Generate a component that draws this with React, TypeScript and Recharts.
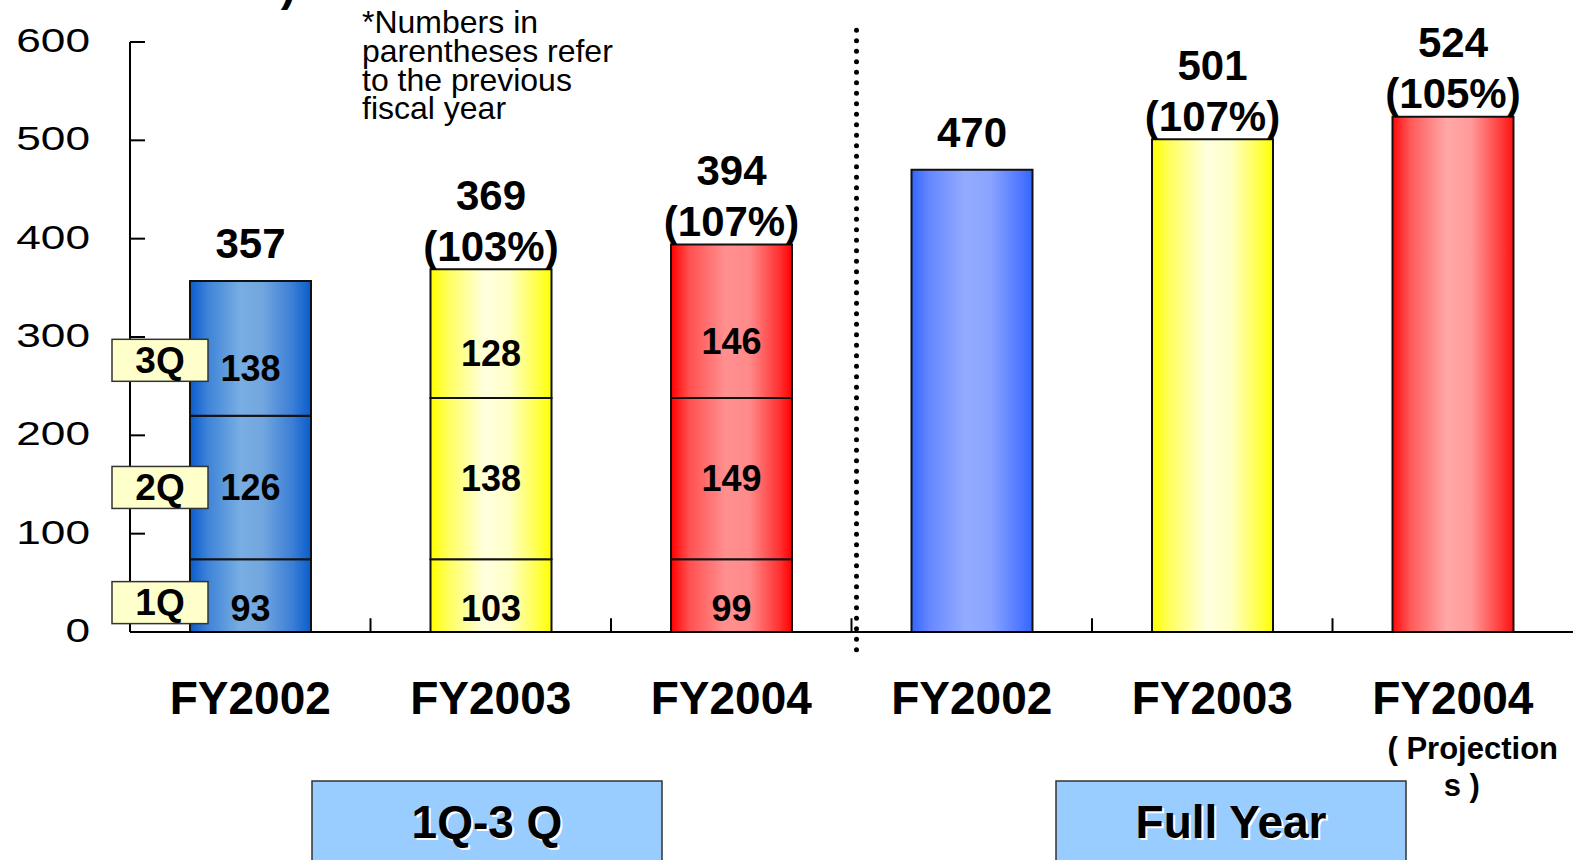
import React from "react";
import { BarChart, Bar, XAxis, YAxis, Cell, LabelList, ReferenceLine } from "recharts";

const categories = ["FY2002", "FY2003", "FY2004", "FY2002", "FY2003", "FY2004"];
// segment heights as they are drawn in the source chart
const q1 = [74, 74, 74, null, null, null];
const q2 = [146, 164, 164, null, null, null];
const q3 = [137, 131, 156, null, null, null];
// numbers printed inside the segments
const q1Labels = [93, 103, 99];
const q2Labels = [126, 138, 149];
const q3Labels = [138, 128, 146];
const fullYear = [null, null, null, 470, 501, 524];
const totals = [357, 369, 394, 470, 501, 524];
const growth = [null, "(103%)", "(107%)", null, "(107%)", "(105%)"];
const tickNotes: (string[] | null)[] = [null, null, null, null, null, ["( Projection", "s )"]];
const yTicks = [0, 100, 200, 300, 400, 500, 600];
const quarterFills = ["url(#blueQ)", "url(#yellowQ)", "url(#redQ)"];
const fullFills = ["", "", "", "url(#blueF)", "url(#yellowF)", "url(#redF)"];

const rows = categories.map((c, i) => ({
  cat: c + "_" + i,
  q1: q1[i],
  q2: q2[i],
  q3: q3[i],
  full: fullYear[i],
}));

const FONT = '"Liberation Sans", Arial, sans-serif';

function YTick(props: any) {
  const { x, y, payload } = props;
  return (
    <g transform={`translate(${x},${y - 2})`}>
      <text textAnchor="end" dominantBaseline="central" transform="scale(1.3,1)" fontSize={34} fontFamily={FONT} fill="#000">
        {payload.value}
      </text>
    </g>
  );
}

function XTick(props: any) {
  const { x, y, index } = props;
  const notes = tickNotes[index];
  return (
    <g>
      <text x={x} y={y + 82} textAnchor="middle" fontSize={46} fontWeight="bold" fontFamily={FONT} fill="#000">
        {categories[index]}
      </text>
      {notes && (
        <>
          <text x={x + 20} y={y + 127} textAnchor="middle" fontSize={31} fontWeight="bold" fontFamily={FONT} fill="#000">{notes[0]}</text>
          <text x={x + 9} y={y + 164} textAnchor="middle" fontSize={31} fontWeight="bold" fontFamily={FONT} fill="#000">{notes[1]}</text>
        </>
      )}
    </g>
  );
}

const segLabel = (labels: number[], dy: number, qName: string, boxDy: number) => (props: any) => {
  const { x, y, width, height, index } = props;
  const v = labels[index];
  if (v == null || !height) return null;
  const cy = y + height / 2 + dy;
  return (
    <g>
      {index === 0 && (
        <g>
          <rect x={x - 78} y={cy + boxDy - 21} width={96} height={42} fill="#ffffcc" stroke="#333" strokeWidth={1.5} />
          <text x={x - 30} y={cy + boxDy} textAnchor="middle" dominantBaseline="central" fontSize={37} fontWeight="bold" fontFamily={FONT} fill="#000">
            {qName}
          </text>
        </g>
      )}
      <text x={x + width / 2} y={cy} textAnchor="middle" dominantBaseline="central" fontSize={36} fontWeight="bold" fontFamily={FONT} fill="#000">
        {v}
      </text>
    </g>
  );
};

const totalLabel = (series: (number | null)[]) => (props: any) => {
  const { x, y, width, index, value } = props;
  const raw = Array.isArray(value) ? value[1] - value[0] : value;
  let i = series.indexOf(raw);
  if (i < 0) i = index;
  if (i == null || series[i] == null) return null;
  const g = growth[i];
  const cx = x + width / 2;
  const pctY = y - 23;
  const numY = g ? pctY - 51 : y - 37;
  return (
    <g>
      <text x={cx} y={numY} textAnchor="middle" dominantBaseline="central" fontSize={42} fontWeight="bold" fontFamily={FONT} fill="#000">
        {totals[i]}
      </text>
      {g && (
        <text x={cx} y={pctY} textAnchor="middle" dominantBaseline="central" fontSize={42} fontWeight="bold" fontFamily={FONT} fill="#000">
          {g}
        </text>
      )}
    </g>
  );
};

function grad(id: string, stops: [number, string][]) {
  return (
    <linearGradient id={id} x1="0" y1="0" x2="1" y2="0">
      {stops.map(([o, c], i) => (
        <stop key={i} offset={o} stopColor={c} />
      ))}
    </linearGradient>
  );
}

function GroupBox({ x, label }: { x: number; label: string }) {
  return (
    <g>
      <rect x={x} y={781} width={350} height={100} fill="#99ccff" stroke="#333" strokeWidth={1.5} />
      <text x={x + 177} y={840} textAnchor="middle" fontSize={46} fontWeight="bold" fontFamily={FONT} fill="#fff">{label}</text>
      <text x={x + 175} y={838} textAnchor="middle" fontSize={46} fontWeight="bold" fontFamily={FONT} fill="#000">{label}</text>
    </g>
  );
}

// dotted divider sits a few px right of the group boundary
const Divider = (p: any) => (
  <line x1={p.x1 + 5} y1={p.y1} x2={p.x2 + 5} y2={p.y2} stroke="#000" strokeWidth={5} strokeDasharray="0 10.5" strokeLinecap="round" />
);

export default function App() {
  return (
    <div style={{ position: "absolute", left: 0, top: 0, width: 1573, height: 860, background: "#fff", overflow: "hidden" }}>
      <BarChart width={1573} height={860} data={rows} margin={{ top: 42, right: 0, bottom: 158, left: 0 }} barSize={121}>
        <defs>
          {grad("blueQ", [[0, "#0a5ccc"], [0.15, "#3f84d8"], [0.42, "#78aee2"], [0.6, "#72a6de"], [0.85, "#3a7ed6"], [1, "#0a5ccc"]])}
          {grad("yellowQ", [[0, "#ffff00"], [0.15, "#ffff60"], [0.45, "#ffffe0"], [0.65, "#ffffc8"], [0.9, "#ffff40"], [1, "#ffff00"]])}
          {grad("redQ", [[0, "#ff0000"], [0.15, "#ff5050"], [0.45, "#ff9090"], [0.65, "#ff8a8a"], [0.9, "#ff3030"], [1, "#ff0000"]])}
          {grad("blueF", [[0, "#3366ff"], [0.15, "#6688ff"], [0.45, "#94acff"], [0.65, "#8aa4ff"], [0.9, "#5078ff"], [1, "#3366ff"]])}
          {grad("yellowF", [[0, "#ffff00"], [0.15, "#ffff60"], [0.45, "#ffffe0"], [0.65, "#ffffc8"], [0.9, "#ffff40"], [1, "#ffff00"]])}
          {grad("redF", [[0, "#ff0a0a"], [0.15, "#ff5a5a"], [0.45, "#ffa8a8"], [0.65, "#ff9a9a"], [0.9, "#ff3a3a"], [1, "#ff1010"]])}
        </defs>
        <XAxis dataKey="cat" type="category" height={70} tickLine={false} tickSize={0} tickMargin={0}
          axisLine={{ stroke: "#000", strokeWidth: 2 }} tick={<XTick />} interval={0} />
        <YAxis domain={[0, 600]} ticks={yTicks} width={130} tickSize={-15} tickMargin={55}
          axisLine={{ stroke: "#000", strokeWidth: 2 }} tickLine={{ stroke: "#000", strokeWidth: 2 }} tick={<YTick />} interval={0} />
        {rows.slice(1).map((r) => (
          <ReferenceLine key={r.cat} position="start" segment={[{ x: r.cat, y: 0 }, { x: r.cat, y: 14 }]} stroke="#000" strokeWidth={2} />
        ))}
        <ReferenceLine position="start" ifOverflow="visible" segment={[{ x: rows[3].cat, y: 612 }, { x: rows[3].cat, y: -20.5 }]}
          shape={Divider} />
        <Bar dataKey="q1" stackId="a" stroke="#111" strokeWidth={2} isAnimationActive={false}>
          {rows.map((r, i) => <Cell key={i} fill={quarterFills[i] || "none"} />)}
          <LabelList dataKey="q1" content={segLabel(q1Labels, 13, "1Q", -6)} />
        </Bar>
        <Bar dataKey="q2" stackId="a" stroke="#111" strokeWidth={2} isAnimationActive={false}>
          {rows.map((r, i) => <Cell key={i} fill={quarterFills[i] || "none"} />)}
          <LabelList dataKey="q2" content={segLabel(q2Labels, 0, "2Q", 0)} />
        </Bar>
        <Bar dataKey="q3" stackId="a" stroke="#111" strokeWidth={2} isAnimationActive={false}>
          {rows.map((r, i) => <Cell key={i} fill={quarterFills[i] || "none"} />)}
          <LabelList dataKey="q3" content={segLabel(q3Labels, 20, "3Q", -8)} />
          <LabelList dataKey="q3" content={totalLabel(q3)} />
        </Bar>
        <Bar dataKey="full" stackId="a" stroke="#111" strokeWidth={2} isAnimationActive={false}>
          {rows.map((r, i) => <Cell key={i} fill={fullFills[i] || "none"} />)}
          <LabelList dataKey="full" content={totalLabel(fullYear)} />
        </Bar>
      </BarChart>
      <svg width={1573} height={860} style={{ position: "absolute", left: 0, top: 0, pointerEvents: "none" }}>
        <text x={296} y={0} textAnchor="end" fontSize={46} fontWeight="bold" fontFamily={FONT} fill="#000">(Unit: Billion Yen)</text>
        <text fontSize={32} fontFamily={FONT} fill="#000">
          <tspan x={362} y={33}>*Numbers in</tspan>
          <tspan x={362} y={62}>parentheses refer</tspan>
          <tspan x={362} y={91}>to the previous</tspan>
          <tspan x={362} y={119}>fiscal year</tspan>
        </text>
        <GroupBox x={312} label="1Q-3 Q" />
        <GroupBox x={1056} label="Full Year" />
      </svg>
    </div>
  );
}
